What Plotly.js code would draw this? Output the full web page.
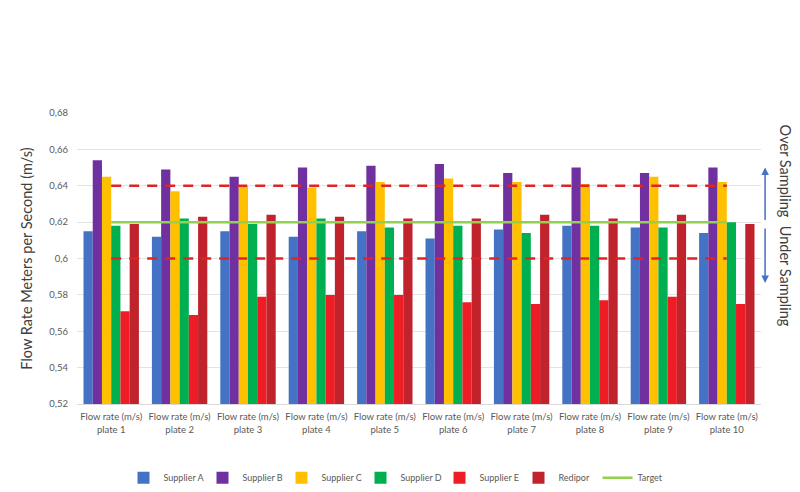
<!DOCTYPE html>
<html>
<head>
<meta charset="utf-8">
<script src="https://cdn.plot.ly/plotly-3.0.1.min.js"></script>
<style>html,body{margin:0;padding:0;background:#fff;}#chart{width:800px;height:492px;}</style>
</head>
<body>
<div id="chart"></div>
<script>
const categories = ["Flow rate (m/s)<br>plate 1","Flow rate (m/s)<br>plate 2","Flow rate (m/s)<br>plate 3","Flow rate (m/s)<br>plate 4","Flow rate (m/s)<br>plate 5","Flow rate (m/s)<br>plate 6","Flow rate (m/s)<br>plate 7","Flow rate (m/s)<br>plate 8","Flow rate (m/s)<br>plate 9","Flow rate (m/s)<br>plate 10"];
const supplierA = [0.615,0.612,0.615,0.612,0.615,0.611,0.616,0.618,0.617,0.614];
const supplierB = [0.654,0.649,0.645,0.650,0.651,0.652,0.647,0.650,0.647,0.650];
const supplierC = [0.645,0.637,0.640,0.639,0.642,0.644,0.642,0.641,0.645,0.642];
const supplierD = [0.618,0.622,0.619,0.622,0.617,0.618,0.614,0.618,0.617,0.620];
const supplierE = [0.571,0.569,0.579,0.580,0.580,0.576,0.575,0.577,0.579,0.575];
const redipor   = [0.619,0.623,0.624,0.623,0.622,0.622,0.624,0.622,0.624,0.619];
const target    = [0.62,0.62,0.62,0.62,0.62,0.62,0.62,0.62,0.62,0.62];
const upperLimit = [0.64,0.64,0.64,0.64,0.64,0.64,0.64,0.64,0.64,0.64];
const lowerLimit = [0.60,0.60,0.60,0.60,0.60,0.60,0.60,0.60,0.60,0.60];

const bar = (name, y, color) => ({type:'bar', name, x:categories, y, marker:{color}, base:0});
const traces = [
  bar('Supplier A', supplierA, '#4472C4'),
  bar('Supplier B', supplierB, '#7030A0'),
  bar('Supplier C', supplierC, '#FFC000'),
  bar('Supplier D', supplierD, '#00B050'),
  bar('Supplier E', supplierE, '#EE1C25'),
  bar('Redipor', redipor, '#C0232B'),
  {type:'scatter', mode:'lines', name:'Target', x:categories, y:target, line:{color:'#92D050', width:2.5}},
  {type:'scatter', mode:'lines', name:'Upper', x:categories, y:upperLimit, showlegend:false, line:{color:'#E02424', width:2.5, dash:'10px,8px'}},
  {type:'scatter', mode:'lines', name:'Lower', x:categories, y:lowerLimit, showlegend:false, line:{color:'#E02424', width:2.5, dash:'10px,8px'}}
];

const layout = {
  width:800, height:492,
  separators:',.',
  font:{family:'Lato, "Open Sans", sans-serif', color:'#595959', size:10},
  margin:{l:77, r:39, t:113, b:88, autoexpand:false},
  paper_bgcolor:'#fff', plot_bgcolor:'#fff',
  barmode:'group', bargap:0.19, bargroupgap:0,
  showlegend:true,
  legend:{orientation:'h', x:0.5, xref:'container', xanchor:'center', y:0.029, yref:'container', yanchor:'middle', font:{size:9, color:'#595959'}, traceorder:'normal', itemwidth:30, entrywidth:34, entrywidthmode:'pixels'},
  xaxis:{type:'category', showgrid:false, showline:true, linecolor:'#D9D9D9', linewidth:1, ticks:'', ticklabelstandoff:4, tickfont:{size:9.5, color:'#595959'}, tickangle:0},
  yaxis:{range:[0.52,0.68], dtick:0.02, tick0:0.52, showgrid:true, gridcolor:'#E3E3E3', zeroline:false, showline:false, ticks:'', ticklabelstandoff:8, tickfont:{size:9.5, color:'#595959'},
    title:{text:'Flow Rate Meters per Second (m/s)', font:{size:14.5, color:'#404040'}, standoff:13}},
  annotations:[
    {xref:'paper', yref:'y', x:1.006, y:0.650, axref:'pixel', ayref:'pixel', ax:0, ay:54, showarrow:true, arrowhead:2, arrowsize:1, arrowwidth:1.5, arrowcolor:'#4472C4', text:''},
    {xref:'paper', yref:'y', x:1.006, y:0.5865, axref:'pixel', ayref:'pixel', ax:0, ay:-56, showarrow:true, arrowhead:2, arrowsize:1, arrowwidth:1.5, arrowcolor:'#4472C4', text:''},
    {xref:'paper', yref:'y', x:1.035, xanchor:'center', y:0.6478, text:'Over Sampling', textangle:90, showarrow:false, font:{size:14.5, color:'#404040'}},
    {xref:'paper', yref:'y', x:1.035, xanchor:'center', y:0.590, text:'Under Sampling', textangle:90, showarrow:false, font:{size:14.5, color:'#404040'}}
  ]
};

Plotly.newPlot('chart', traces, layout, {displayModeBar:false, staticPlot:true});
</script>
</body>
</html>
